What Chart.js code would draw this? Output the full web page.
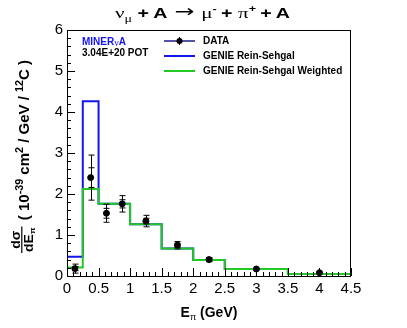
<!DOCTYPE html>
<html>
<head>
<meta charset="utf-8">
<script src="https://cdn.jsdelivr.net/npm/chart.js@4.4.0/dist/chart.umd.min.js"></script>
<style>
  html, body { margin: 0; padding: 0; background: #fff; }
  #wrap { width: 407px; height: 328px; }
</style>
</head>
<body>
<div id="wrap"><canvas id="myChart" width="407" height="328"></canvas></div>
<script>
// bin edges of the MC histograms (GeV)
const binEdges = [0, 0.25, 0.5, 1.0, 1.5, 2.0, 2.5, 3.5, 4.5];
// GENIE predictions, one value per bin
const genieRS = [0.47, 4.26, 1.76, 1.26, 0.67, 0.39, 0.17, 0.05];
const genieRSWeighted = [0.21, 2.12, 1.76, 1.26, 0.67, 0.39, 0.17, 0.05];

// data points
const dataE = [0.125, 0.375, 0.625, 0.875, 1.25, 1.75, 2.25, 3.0, 4.0];
const dataXsec = [0.18, 2.40, 1.53, 1.76, 1.34, 0.75, 0.40, 0.17, 0.08];
const dataStatErr = [0.05, 0.24, 0.12, 0.10, 0.07, 0.05, 0.03, 0.01, 0.01];
const dataTotErr = [0.11, 0.55, 0.22, 0.20, 0.14, 0.09, 0.05, 0.02, 0.02];

const xTicks = [0, 0.5, 1, 1.5, 2, 2.5, 3, 3.5, 4, 4.5];
const xTickLabels = ['0', '0.5', '1', '1.5', '2', '2.5', '3', '3.5', '4', '4.5'];
const yTicks = [0, 1, 2, 3, 4, 5, 6];
const yTickLabels = ['0', '1', '2', '3', '4', '5', '6'];

const BLUE = '#1414f0';
const GREEN = '#22c922';
const SANS = '"Liberation Sans", Arial, Helvetica, sans-serif';
const SERIF = '"Liberation Serif", "DejaVu Serif", serif';

// histogram -> step points
const histPoints = vals => binEdges.map((e, i) => ({ x: e, y: vals[Math.min(i, vals.length - 1)] }));

// rich text: segments {t, font, dy} or {gap}
const segW = (ctx, s) => { if (s.gap) return s.gap; ctx.font = s.font; return ctx.measureText(s.t).width; };
const richWidth = (ctx, segs) => segs.reduce((w, s) => w + segW(ctx, s), 0);
const drawRich = (ctx, segs, x, y) => {
  segs.forEach(s => {
    if (!s.gap) {
      ctx.font = s.font;
      ctx.fillStyle = s.color || '#000';
      ctx.fillText(s.t, x, y + (s.dy || 0));
    }
    x += segW(ctx, s);
  });
};
// draw segments stretched to fill [x0, x0 + width]
const drawFit = (ctx, segs, x0, y, width) => {
  const w = richWidth(ctx, segs);
  ctx.save();
  ctx.translate(x0, y);
  ctx.scale(width / w, 1);
  drawRich(ctx, segs, 0, 0);
  ctx.restore();
};

const decor = {
  id: 'decor',
  afterDatasetsDraw(chart) {
    const ctx = chart.ctx, xs = chart.scales.x, ys = chart.scales.y;
    ctx.save();
    ctx.strokeStyle = '#000';
    ctx.lineWidth = 1;
    dataE.forEach((e, i) => {
      const px = Math.round(xs.getPixelForValue(e)) + 0.5;
      const v = dataXsec[i];
      const yTop = ys.getPixelForValue(v + dataTotErr[i]);
      const yBot = ys.getPixelForValue(v - dataTotErr[i]);
      const sTop = ys.getPixelForValue(v + dataStatErr[i]);
      const sBot = ys.getPixelForValue(v - dataStatErr[i]);
      ctx.beginPath();
      ctx.moveTo(px, yTop); ctx.lineTo(px, yBot);
      [yTop, yBot, sTop, sBot].forEach(yy => { ctx.moveTo(px - 3, yy); ctx.lineTo(px + 3, yy); });
      ctx.stroke();
    });
    ctx.restore();
  },
  afterDraw(chart) {
    const ctx = chart.ctx, xs = chart.scales.x, ys = chart.scales.y;
    const a = chart.chartArea;
    ctx.save();
    // frame
    ctx.strokeStyle = '#000';
    ctx.lineWidth = 1;
    ctx.strokeRect(Math.round(a.left) + 0.5, Math.round(a.top) + 0.5, Math.round(a.right - a.left) - 1, Math.round(a.bottom - a.top));
    // ticks inside frame
    ctx.beginPath();
    for (let k = 0; k <= 45; k++) {
      const px = Math.round(xs.getPixelForValue(k / 10)) + 0.5;
      const len = k % 5 === 0 ? 8 : 4;
      ctx.moveTo(px, a.bottom); ctx.lineTo(px, a.bottom - len);
    }
    for (let k = 0; k <= 30; k++) {
      const py = Math.round(ys.getPixelForValue(k / 5)) + 0.5;
      const len = k % 5 === 0 ? 8 : 4;
      ctx.moveTo(a.left, py); ctx.lineTo(a.left + len, py);
    }
    ctx.stroke();

    ctx.textBaseline = 'alphabetic';
    // title
    const B14 = 'bold 14px ' + SANS, G15 = '15px ' + SERIF, G10 = '10px ' + SERIF, S9 = 'bold 9px ' + SANS;
    const ARR = '17px "DejaVu Sans", sans-serif';
    const title = [
      { t: 'ν', font: G15 }, { t: 'μ', font: G10, dy: 4 }, { gap: 4 },
      { t: '+', font: B14 }, { gap: 3 }, { t: 'A', font: B14 }, { gap: 5 },
      { t: '→', font: ARR, dy: -1 }, { gap: 5 }, { t: 'μ', font: G15 },
      { t: '-', font: S9, dy: -6 }, { gap: 3 }, { t: '+', font: B14 }, { gap: 4 }, { t: 'π', font: G15 },
      { t: '+', font: S9, dy: -6 }, { gap: 3 }, { t: '+', font: B14 }, { gap: 3 }, { t: 'A', font: B14 }
    ];
    drawFit(ctx, title, 115, 18, 175);

    // x axis title
    const xt = [
      { t: 'E', font: 'bold 14px ' + SANS }, { t: 'π', font: '9px ' + SANS, dy: 3 },
      { t: ' (GeV)', font: 'bold 14px ' + SANS }
    ];
    drawRich(ctx, xt, 209 - richWidth(ctx, xt) / 2, 317);

    // y axis title (rotated), fills screen y 60..253
    const F = 'bold 14px ' + SANS, FS = 'bold 10px ' + SANS;
    const yt = [
      { t: ' ( 10', font: F }, { t: '-39', font: FS, dy: -6 }, { t: ' cm', font: F },
      { t: '2', font: FS, dy: -6 }, { t: ' / GeV / ', font: F }, { t: '12', font: FS, dy: -6 },
      { t: 'C )', font: F }
    ];
    ctx.font = 'bold 13px ' + SANS;
    const numW = ctx.measureText('dσ').width;
    const dW = ctx.measureText('dE').width;
    ctx.font = 'bold 8px ' + SANS;
    const denW = dW + ctx.measureText('π').width;
    const fw = Math.max(numW, denW) + 2;
    const L = fw + 2 + richWidth(ctx, yt);
    const sx = 193 / L;
    ctx.translate(24, 253);
    ctx.rotate(-Math.PI / 2);
    ctx.scale(sx, 1);
    ctx.fillStyle = '#000';
    ctx.fillRect(0, -2.8, fw, 1.2);
    ctx.font = 'bold 13px ' + SANS;
    ctx.fillText('dσ', (fw - numW) / 2, -4.5);
    ctx.fillText('dE', (fw - denW) / 2, 9);
    ctx.font = 'bold 8px ' + SANS;
    ctx.fillText('π', (fw - denW) / 2 + dW, 11);
    drawRich(ctx, yt, fw + 2, 5);
    ctx.restore();

    // legend and labels
    ctx.save();
    ctx.textBaseline = 'middle';
    ctx.font = 'bold 10px ' + SANS;
    ctx.fillStyle = BLUE;
    ctx.fillText('MINER', 82, 42);
    let w = ctx.measureText('MINER').width;
    ctx.font = '10px ' + SERIF;
    ctx.fillText('ν', 82 + w, 43);
    w += ctx.measureText('ν').width;
    ctx.font = 'bold 10px ' + SANS;
    ctx.fillText('A', 82 + w, 42);
    ctx.fillStyle = '#000';
    ctx.fillText('3.04E+20 POT', 82, 53);

    const lx0 = 164, lx1 = 195, tx = 203;
    ctx.lineWidth = 1.5;
    ctx.strokeStyle = '#1a1a8c';
    ctx.beginPath(); ctx.moveTo(lx0, 41); ctx.lineTo(lx1, 41); ctx.stroke();
    ctx.strokeStyle = '#000';
    ctx.lineWidth = 1;
    ctx.beginPath(); ctx.moveTo(179.5, 37); ctx.lineTo(179.5, 45); ctx.stroke();
    ctx.beginPath(); ctx.arc(179.5, 41, 3, 0, Math.PI * 2); ctx.fill();
    ctx.lineWidth = 2;
    ctx.strokeStyle = BLUE;
    ctx.beginPath(); ctx.moveTo(lx0, 56); ctx.lineTo(lx1, 56); ctx.stroke();
    ctx.strokeStyle = GREEN;
    ctx.beginPath(); ctx.moveTo(lx0, 71); ctx.lineTo(lx1, 71); ctx.stroke();
    ctx.fillStyle = '#000';
    ctx.fillText('DATA', tx, 41);
    ctx.fillText('GENIE Rein-Sehgal', tx, 56);
    ctx.fillText('GENIE Rein-Sehgal Weighted', tx, 71);
    ctx.restore();
  }
};

const ctxChart = document.getElementById('myChart').getContext('2d');

const chart = new Chart(ctxChart, {
  type: 'scatter',
  data: {
    datasets: [
      {
        label: 'DATA',
        data: dataE.map((e, i) => ({ x: e, y: dataXsec[i] })),
        backgroundColor: '#000',
        borderColor: '#000',
        pointRadius: 3,
        pointHoverRadius: 3,
        showLine: false,
        order: 0
      },
      {
        label: 'GENIE Rein-Sehgal Weighted',
        type: 'line',
        data: histPoints(genieRSWeighted),
        borderColor: GREEN,
        borderWidth: 2,
        pointRadius: 0,
        stepped: 'before',
        fill: false,
        order: 1
      },
      {
        label: 'GENIE Rein-Sehgal',
        type: 'line',
        data: histPoints(genieRS),
        borderColor: BLUE,
        borderWidth: 2,
        pointRadius: 0,
        stepped: 'before',
        fill: false,
        order: 2
      }
    ]
  },
  options: {
    responsive: false,
    animation: false,
    devicePixelRatio: 1,
    layout: { padding: { left: 0, right: 56, top: 30, bottom: 0 } },
    plugins: {
      legend: { display: false },
      tooltip: { enabled: false }
    },
    scales: {
      x: {
        type: 'linear',
        min: 0,
        max: 4.5,
        afterBuildTicks: s => { s.ticks = xTicks.map(v => ({ value: v })); },
        afterFit: s => { s.height = 52; },
        grid: { display: false, drawTicks: false },
        border: { display: false },
        ticks: {
          color: '#000', padding: 4, maxRotation: 0, autoSkip: false,
          font: { family: SANS, size: 15 },
          callback: (v, i) => xTickLabels[i]
        }
      },
      y: {
        type: 'linear',
        min: 0,
        max: 6,
        afterBuildTicks: s => { s.ticks = yTicks.map(v => ({ value: v })); },
        afterFit: s => { s.width = 67; },
        grid: { display: false, drawTicks: false },
        border: { display: false },
        ticks: {
          color: '#000', padding: 4,
          font: { family: SANS, size: 15 },
          callback: (v, i) => yTickLabels[i]
        }
      }
    }
  },
  plugins: [decor]
});
</script>
</body>
</html>
